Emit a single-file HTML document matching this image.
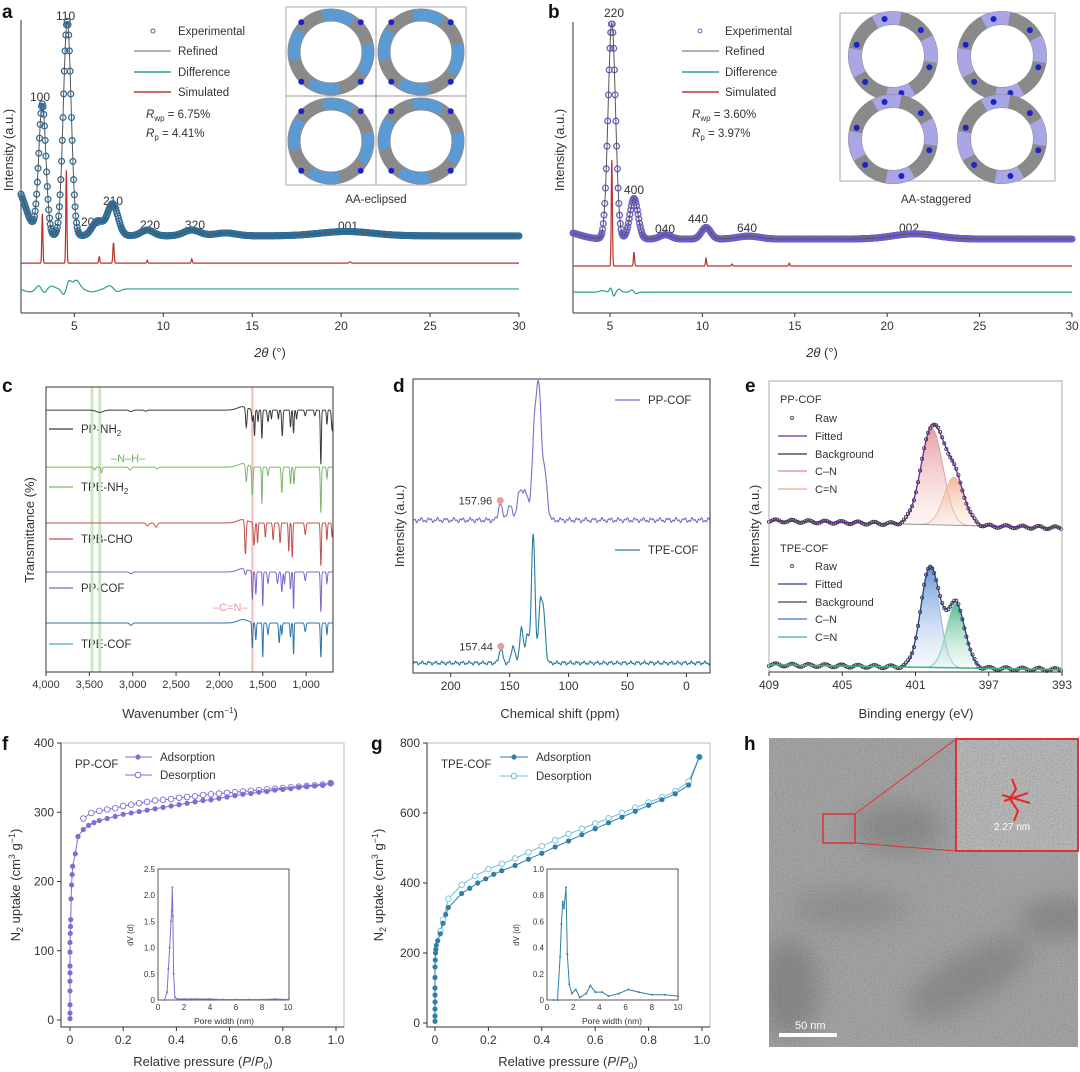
<!DOCTYPE html>
<html><head><meta charset="utf-8">
<style>
html,body{margin:0;padding:0;background:#fff;}
svg{display:block;font-family:"Liberation Sans",sans-serif;}
text{fill:#333;}
.tk{font-size:12px;text-anchor:middle;}
.lg{font-size:11.5px;}
.pl{font-size:19px;font-weight:bold;fill:#111;}
.al{font-size:13px;text-anchor:middle;}
</style></head>
<body>
<svg id="fig" width="1080" height="1072" viewBox="0 0 1080 1072">
<defs>
<filter id="noise" x="0" y="0" width="100%" height="100%">
<feTurbulence type="fractalNoise" baseFrequency="0.9" numOctaves="2" seed="3"/>
<feColorMatrix type="matrix" values="0.33 0.33 0.33 0 0.0  0.33 0.33 0.33 0 0.0  0.33 0.33 0.33 0 0.0  0 0 0 0 1"/>
</filter>
<filter id="blur8"><feGaussianBlur stdDeviation="12"/></filter>
<linearGradient id="gPink" x1="0" y1="0" x2="0" y2="1"><stop offset="0" stop-color="#e48f93" stop-opacity="0.85"/><stop offset="1" stop-color="#fbe3e3" stop-opacity="0.3"/></linearGradient>
<linearGradient id="gOrange" x1="0" y1="0" x2="0" y2="1"><stop offset="0" stop-color="#efa57e" stop-opacity="0.8"/><stop offset="1" stop-color="#fde8dc" stop-opacity="0.3"/></linearGradient>
<linearGradient id="gBlue" x1="0" y1="0" x2="0" y2="1"><stop offset="0" stop-color="#4f86d0" stop-opacity="0.85"/><stop offset="1" stop-color="#e2ecf8" stop-opacity="0.3"/></linearGradient>
<linearGradient id="gGreen" x1="0" y1="0" x2="0" y2="1"><stop offset="0" stop-color="#35b07f" stop-opacity="0.85"/><stop offset="1" stop-color="#dff3ea" stop-opacity="0.3"/></linearGradient>
</defs>

<g id="pa">
<text class="pl" x="2" y="18">a</text>
<line x1="21" y1="20" x2="21" y2="313" stroke="#333"/>
<line x1="21" y1="313" x2="519" y2="313" stroke="#333"/>
<text class="al" transform="translate(13,150) rotate(-90)">Intensity (a.u.)</text>
<text class="al" x="270" y="357"><tspan font-style="italic">2θ</tspan> (°)</text>
<g font-size="12">
<text x="56" y="20">110</text><text x="30" y="101">100</text><text x="103" y="205">210</text><text x="81" y="226">200</text><text x="140" y="229">220</text><text x="185" y="229">320</text><text x="338" y="230">001</text>
</g>
<g>
<circle cx="153" cy="31" r="2" fill="none" stroke="#2f6f9a"/>
<text class="lg" x="178" y="35">Experimental</text>
<line x1="134" y1="51" x2="171" y2="51" stroke="#666"/>
<text class="lg" x="178" y="55">Refined</text>
<line x1="134" y1="72" x2="171" y2="72" stroke="#2aa39a" stroke-width="1.5"/>
<text class="lg" x="178" y="76">Difference</text>
<line x1="134" y1="92" x2="171" y2="92" stroke="#c0392b" stroke-width="1.5"/>
<text class="lg" x="178" y="96">Simulated</text>
<text class="lg" x="146" y="118"><tspan font-style="italic">R</tspan><tspan font-size="8" dy="3">wp</tspan><tspan dy="-3"> = 6.75%</tspan></text>
<text class="lg" x="146" y="137"><tspan font-style="italic">R</tspan><tspan font-size="8" dy="3">p</tspan><tspan dy="-3"> = 4.41%</tspan></text>
</g>
<g id="aInset">
<rect x="286" y="7" width="180" height="178" fill="#fff" stroke="#aaa"/>
<line x1="376" y1="7" x2="376" y2="185" stroke="#999"/><line x1="286" y1="96" x2="466" y2="96" stroke="#999"/>
</g>
<text class="lg" x="376" y="203" text-anchor="middle">AA-eclipsed</text>
</g>

<g id="pb">
<text class="pl" x="548" y="18">b</text>
<line x1="573" y1="22" x2="573" y2="313" stroke="#333"/>
<line x1="573" y1="313" x2="1072" y2="313" stroke="#333"/>
<text class="al" transform="translate(564,150) rotate(-90)">Intensity (a.u.)</text>
<text class="al" x="822" y="357"><tspan font-style="italic">2θ</tspan> (°)</text>
<g font-size="12">
<text x="604" y="17">220</text><text x="624" y="194">400</text><text x="655" y="233">040</text><text x="688" y="223">440</text><text x="737" y="232">640</text><text x="899" y="232">002</text>
</g>
<g>
<circle cx="700" cy="31" r="2" fill="none" stroke="#6b5fc7"/>
<text class="lg" x="725" y="35">Experimental</text>
<line x1="682" y1="51" x2="719" y2="51" stroke="#666"/>
<text class="lg" x="725" y="55">Refined</text>
<line x1="682" y1="72" x2="719" y2="72" stroke="#2aa39a" stroke-width="1.5"/>
<text class="lg" x="725" y="76">Difference</text>
<line x1="682" y1="92" x2="719" y2="92" stroke="#c0392b" stroke-width="1.5"/>
<text class="lg" x="725" y="96">Simulated</text>
<text class="lg" x="692" y="118"><tspan font-style="italic">R</tspan><tspan font-size="8" dy="3">wp</tspan><tspan dy="-3"> = 3.60%</tspan></text>
<text class="lg" x="692" y="137"><tspan font-style="italic">R</tspan><tspan font-size="8" dy="3">p</tspan><tspan dy="-3"> = 3.97%</tspan></text>
</g>
<g id="bInset">
<rect x="840" y="13" width="215" height="168" fill="#fff" stroke="#aaa"/>
</g>
<text class="lg" x="936" y="203" text-anchor="middle">AA-staggered</text>
</g>

<g id="pc">
<text class="pl" x="2" y="392">c</text>
<text class="al" transform="translate(34,530) rotate(-90)">Transmittance (%)</text>
<text class="al" x="180" y="718">Wavenumber (cm<tspan font-size="8" dy="-5">−1</tspan><tspan dy="5">)</tspan></text>
<g>
<line x1="49" y1="429" x2="73" y2="429" stroke="#3b3b3b" stroke-width="1.3"/><text class="lg" x="81" y="433">PP-NH<tspan font-size="8" dy="3">2</tspan></text>
<line x1="49" y1="487" x2="73" y2="487" stroke="#7cb86a" stroke-width="1.3"/><text class="lg" x="81" y="491">TPE-NH<tspan font-size="8" dy="3">2</tspan></text>
<line x1="49" y1="539" x2="73" y2="539" stroke="#c0504d" stroke-width="1.3"/><text class="lg" x="81" y="543">TPB-CHO</text>
<line x1="49" y1="588" x2="73" y2="588" stroke="#7b68c8" stroke-width="1.3"/><text class="lg" x="81" y="592">PP-COF</text>
<line x1="49" y1="644" x2="73" y2="644" stroke="#4aa6c9" stroke-width="1.3"/><text class="lg" x="81" y="648">TPE-COF</text>
</g>
<text x="111" y="462" font-size="11" style="fill:#6fae55">–N–H–</text>
<text x="213" y="611" font-size="11" style="fill:#e79a9a">–C=N–</text>
</g>

<g id="pd">
<text class="pl" x="393" y="392">d</text>
<text class="al" transform="translate(404,526) rotate(-90)">Intensity (a.u.)</text>
<text class="al" x="560" y="718">Chemical shift (ppm)</text>
<g>
<line x1="615" y1="400" x2="640" y2="400" stroke="#7a6fc9" stroke-width="1.3"/><text class="lg" x="648" y="404">PP-COF</text>
<line x1="615" y1="550" x2="640" y2="550" stroke="#2a7aa0" stroke-width="1.3"/><text class="lg" x="648" y="554">TPE-COF</text>
</g>
</g>

<g id="pe">
<text class="pl" x="745" y="392">e</text>
<text class="al" transform="translate(759,526) rotate(-90)">Intensity (a.u.)</text>
<text class="al" x="916" y="718">Binding energy (eV)</text>
<g font-size="11">
<text x="780" y="403">PP-COF</text>
<circle cx="792" cy="418" r="1.5" fill="none" stroke="#555"/><text x="815" y="422">Raw</text>
<line x1="778" y1="436" x2="807" y2="436" stroke="#6a2c9a" stroke-width="1.3"/><text x="815" y="440">Fitted</text>
<line x1="778" y1="454" x2="807" y2="454" stroke="#333" stroke-width="1.3"/><text x="815" y="458">Background</text>
<line x1="778" y1="471" x2="807" y2="471" stroke="#d9888c" stroke-width="1.3"/><text x="815" y="475">C–N</text>
<line x1="778" y1="489" x2="807" y2="489" stroke="#eea884" stroke-width="1.3"/><text x="815" y="493">C=N</text>
</g>
<g font-size="11">
<text x="780" y="552">TPE-COF</text>
<circle cx="792" cy="566" r="1.5" fill="none" stroke="#555"/><text x="815" y="570">Raw</text>
<line x1="778" y1="584" x2="807" y2="584" stroke="#2b3f8a" stroke-width="1.3"/><text x="815" y="588">Fitted</text>
<line x1="778" y1="602" x2="807" y2="602" stroke="#444" stroke-width="1.3"/><text x="815" y="606">Background</text>
<line x1="778" y1="619" x2="807" y2="619" stroke="#3c78c2" stroke-width="1.3"/><text x="815" y="623">C–N</text>
<line x1="778" y1="637" x2="807" y2="637" stroke="#3fb38a" stroke-width="1.3"/><text x="815" y="641">C=N</text>
</g>
</g>

<g id="pf">
<text class="pl" x="2" y="750">f</text>
<text class="al" transform="translate(20,885) rotate(-90)">N<tspan font-size="9" dy="3">2</tspan><tspan dy="-3"> uptake (cm</tspan><tspan font-size="9" dy="-5">3</tspan><tspan dy="5"> g</tspan><tspan font-size="9" dy="-5">−1</tspan><tspan dy="5">)</tspan></text>
<text class="al" x="203" y="1066">Relative pressure (<tspan font-style="italic">P</tspan>/<tspan font-style="italic">P</tspan><tspan font-size="9" dy="3">0</tspan><tspan dy="-3">)</tspan></text>
<text class="lg" x="75" y="768">PP-COF</text>
<g>
<line x1="125" y1="757" x2="152" y2="757" stroke="#7b6fd6"/><circle cx="138" cy="757" r="2.6" fill="#7b6fd6"/><text class="lg" x="160" y="761">Adsorption</text>
<line x1="125" y1="775" x2="152" y2="775" stroke="#7b6fd6"/><circle cx="138" cy="775" r="2.8" fill="#fff" stroke="#7b6fd6"/><text class="lg" x="160" y="779">Desorption</text>
</g>
<text font-size="8" transform="translate(133,935) rotate(-90)" text-anchor="middle">dV (d)</text>
<text font-size="8.5" x="224" y="1024" text-anchor="middle">Pore width (nm)</text>
</g>

<g id="pg">
<text class="pl" x="371" y="750">g</text>
<text class="al" transform="translate(383,885) rotate(-90)">N<tspan font-size="9" dy="3">2</tspan><tspan dy="-3"> uptake (cm</tspan><tspan font-size="9" dy="-5">3</tspan><tspan dy="5"> g</tspan><tspan font-size="9" dy="-5">−1</tspan><tspan dy="5">)</tspan></text>
<text class="al" x="568" y="1066">Relative pressure (<tspan font-style="italic">P</tspan>/<tspan font-style="italic">P</tspan><tspan font-size="9" dy="3">0</tspan><tspan dy="-3">)</tspan></text>
<text class="lg" x="441" y="768">TPE-COF</text>
<g>
<line x1="500" y1="757" x2="528" y2="757" stroke="#2f7fa8"/><circle cx="514" cy="757" r="2.6" fill="#2f7fa8"/><text class="lg" x="536" y="761">Adsorption</text>
<line x1="500" y1="776" x2="528" y2="776" stroke="#6fc0d8"/><circle cx="514" cy="776" r="2.8" fill="#fff" stroke="#6fc0d8"/><text class="lg" x="536" y="780">Desorption</text>
</g>
<text font-size="8" transform="translate(519,935) rotate(-90)" text-anchor="middle">dV (d)</text>
<text font-size="8.5" x="612" y="1024" text-anchor="middle">Pore width (nm)</text>
</g>

<g id="ph">
<text class="pl" x="744" y="750">h</text>
<svg x="769" y="738" width="309" height="309">
<rect width="309" height="309" fill="#7c7c7c"/>
<rect width="309" height="309" filter="url(#noise)" opacity="0.55"/>
<g filter="url(#blur8)" opacity="0.3">
<ellipse cx="130" cy="90" rx="45" ry="25" fill="#555"/>
<ellipse cx="20" cy="250" rx="30" ry="50" fill="#4a4a4a"/>
<ellipse cx="200" cy="240" rx="70" ry="25" fill="#555" transform="rotate(-30 200 240)"/>
<ellipse cx="290" cy="180" rx="40" ry="20" fill="#505050"/>
<ellipse cx="80" cy="170" rx="60" ry="20" fill="#6a6a6a"/>
<ellipse cx="250" cy="110" rx="40" ry="40" fill="#a8a8a8"/>
</g>
</svg>
<rect x="823" y="814" width="32" height="29" fill="none" stroke="#d33" stroke-width="1.5"/>
<line x1="855" y1="814" x2="956" y2="739" stroke="#d33" stroke-width="1"/>
<line x1="855" y1="843" x2="956" y2="851" stroke="#d33" stroke-width="1"/>
<svg x="956" y="739" width="122" height="112">
<rect width="122" height="112" fill="#8a8a8a"/>
<rect width="122" height="112" filter="url(#noise)" opacity="0.8"/>
<path d="M56 40 L60 50 L54 60 L62 72 L58 82 M46 56 L74 64 M48 62 L72 54" stroke="#e22" stroke-width="2" fill="none"/>
<text x="38" y="91" font-size="10" style="fill:#fff">2.27 nm</text>
</svg>
<rect x="956" y="739" width="122" height="112" fill="none" stroke="#d33" stroke-width="2"/>
<rect x="779" y="1033" width="58" height="4" fill="#fff"/>
<text x="795" y="1029" font-size="11" style="fill:#fff">50 nm</text>
</g>
</svg>

<script>
const NS="http://www.w3.org/2000/svg";
function el(tag,attrs,parent){const e=document.createElementNS(NS,tag);for(const k in attrs)e.setAttribute(k,attrs[k]);parent.appendChild(e);return e;}
function lin(d0,d1,r0,r1){return v=>r0+(v-d0)*(r1-r0)/(d1-d0);}
function gsum(x,peaks){let s=0;for(const p of peaks){const d=(x-p[0])/p[2];s+=p[1]*Math.exp(-0.5*d*d);}return s;}

const aTicks=[5,10,15,20,25,30];
const aExpBase=26.6;
const aExpPeaks=[[1.6,18,0.6],[3.2,45,0.2],[4.6,74,0.22],[6.3,5,0.3],[7.15,11,0.3],[9.1,2,0.35],[11.6,2,0.45],[13.5,1,0.6],[20.3,1.5,1.5]];
const aSimBase=17.2;
const aSimPeaks=[[3.2,17,0.03],[4.55,32,0.03],[6.4,2.2,0.03],[7.2,7,0.035],[9.1,1,0.03],[11.6,1.5,0.03],[20.5,0.4,0.05]];
const aDiffBase=8.3;
const aDiffPeaks=[[2.5,-1,0.3],[3.0,1.5,0.15],[3.3,-1.5,0.15],[3.7,1,0.2],[4.4,-2,0.12],[4.7,2.5,0.12],[5.1,3,0.2],[6.0,-1,0.3],[7.0,1.2,0.2],[7.4,-1,0.2]];
const bTicks=[5,10,15,20,25,30];
const bExpBase=25.5;
const bExpPeaks=[[2.5,2.5,0.8],[5.1,74.5,0.2],[6.3,14,0.22],[8.0,1.5,0.3],[10.2,4,0.25],[12.5,1,0.6],[21.5,1.8,1.2]];
const bSimBase=16.2;
const bSimPeaks=[[5.1,36.6,0.03],[6.3,4.8,0.03],[10.2,2.7,0.03],[11.6,0.7,0.03],[14.7,1,0.03]];
const bDiffBase=7.2;
const bDiffPeaks=[[4.6,0.5,0.15],[5.05,1.5,0.07],[5.2,-1.5,0.07],[5.5,1,0.1],[6.2,0.8,0.1],[6.4,-0.6,0.1]];
const cTicks=[4000,3500,3000,2500,2000,1500,1000];
const cTickLabels=["4,000","3,500","3,000","2,500","2,000","1,500","1,000"];
const cNames=["pp-nh2","tpe-nh2","tpb-cho","pp-cof","tpe-cof"];
const cColors=["#3b3b3b","#7cb86a","#c0504d","#7b68c8","#2e75a8"];
const cBaselines=[91.9,71.9,52.3,35.1,17.2];
const cDips=[
 [[3380,0.8,40],[3020,0.5,20],[2850,0.4,15],[1690,7,8],[1620,4,8],[1595,9,6],[1555,4,6],[1510,10,6],[1440,4,8],[1400,3,6],[1320,3,6],[1275,9,7],[1180,6,6],[1145,8,6],[1110,3,6],[1010,2,8],[900,2,8],[830,19,6],[760,5,6],[700,7,8]],
 [[3440,1,10],[3360,2,8],[3030,1,15],[2720,0.6,15],[1690,6,8],[1620,10,8],[1510,13,5],[1440,3,8],[1280,9,7],[1180,6,6],[1140,6,6],[830,16,6],[760,4,6]],
 [[2830,1,15],[2730,1.5,15],[1700,12,8],[1600,8,8],[1560,7,6],[1470,5,6],[1380,6,7],[1300,7,7],[1200,10,6],[1160,12,6],[1010,4,8],[830,15,6],[760,6,6],[700,5,6]],
 [[3020,0.6,15],[1700,2,10],[1620,10,6],[1580,8,6],[1500,12,5],[1440,4,8],[1330,4,8],[1280,7,7],[1250,4,6],[1180,6,6],[1145,13,5],[1010,3,8],[830,14,6],[760,4,6]],
 [[3020,0.8,15],[1620,9,6],[1580,6,6],[1500,12,5],[1440,4,8],[1310,7,7],[1280,4,6],[1180,5,6],[1145,11,5],[1010,3,8],[830,12,6],[760,4,6]]
];
const cRise=[[1730,1.2,60]];
const dTicks=[200,150,100,50,0];
const dPPBase=52;
const dPPPeaks=[[125,42,2],[129,30,2],[120,15,2],[137,10,2.5],[142,8,2],[150,5,2],[157.96,6,1.5]];
const dTPEBase=3.4;
const dTPEPeaks=[[130,44.5,1.5],[124,20,1.5],[121,15,1.5],[135,10,1.5],[140,12,1.5],[147,6,1.5],[157.44,5,1.5]];
const eTicks=[409,405,401,397,393];
const ePPBg=[52,49.5];
const ePPComps=[[400.1,33,0.6],[398.9,16.5,0.55]];
const eTPEBg=[2.5,0.8];
const eTPEComps=[[400.2,34.6,0.5],[398.8,22,0.5]];
const fXTicks=[0,0.2,0.4,0.6,0.8,1.0];
const fXTickLabels=["0","0.2","0.4","0.6","0.8","1.0"];
const fYTicks=[0,100,200,300,400];
const fAdsP=[0,0,0,0,0,0,0,0,0,0.001,0.002,0.003,0.004,0.006,0.008,0.01,0.02,0.03,0.05,0.07,0.09,0.11,0.14,0.17,0.2,0.23,0.26,0.29,0.32,0.35,0.38,0.41,0.44,0.47,0.5,0.53,0.56,0.59,0.62,0.65,0.68,0.71,0.74,0.77,0.8,0.83,0.86,0.89,0.92,0.95,0.98];
const fAdsV=[2,10,22,42,56,68,78,98,112,125,135,145,175,195,210,222,240,265,275,281,285,288,291,294,297,299,301,303,305,307,309,311,313,315,317,318,320,322,324,326,327,329,330,332,333,334,336,337,338,339,342];
const fDesP=[0.98,0.95,0.92,0.89,0.86,0.83,0.8,0.77,0.74,0.71,0.68,0.65,0.62,0.59,0.56,0.53,0.5,0.47,0.44,0.41,0.38,0.35,0.32,0.29,0.26,0.23,0.2,0.17,0.14,0.11,0.08,0.05];
const fDesV=[342,340,339,338,337,336,335,334,333,332,331,330,329,328,327,326,325,323,322,321,319,318,317,315,313,311,309,306,304,302,299,291];
const fPoreW=[0.5,0.7,0.8,0.9,1.0,1.05,1.1,1.15,1.2,1.3,1.5,2,2.5,3,4,5,6,7,8,9,10];
const fPoreDV=[0,0.15,0.6,1.0,1.5,1.7,2.15,1.6,0.5,0.05,0.02,0.02,0.02,0.02,0.02,0.01,0.01,0.01,0.01,0.02,0.01];
const fInsetYTicks=[0,0.5,1.0,1.5,2.0,2.5];
const fInsetYLabels=["0","0.5","1.0","1.5","2.0","2.5"];
const insetXTicks=[0,2,4,6,8,10];
const gYTicks=[0,200,400,600,800];
const gAdsP=[0,0,0,0,0,0,0,0,0.001,0.002,0.003,0.005,0.01,0.02,0.03,0.04,0.05,0.1,0.13,0.16,0.19,0.22,0.25,0.3,0.35,0.4,0.45,0.5,0.55,0.6,0.65,0.7,0.75,0.8,0.85,0.9,0.95,0.99];
const gAdsV=[5,20,40,60,80,100,130,160,180,200,210,222,235,255,285,310,330,370,385,400,412,425,435,450,468,485,503,520,538,555,572,588,605,622,638,655,680,760];
const gDesP=[0.99,0.95,0.9,0.85,0.8,0.75,0.7,0.65,0.6,0.55,0.5,0.45,0.4,0.35,0.3,0.25,0.2,0.15,0.1,0.05,0.03,0.02];
const gDesV=[760,690,662,645,630,615,600,585,570,555,540,522,505,488,470,455,440,420,395,355,295,262];
const gPoreW=[0.5,0.8,1.0,1.1,1.2,1.3,1.45,1.55,1.7,1.9,2.2,2.5,3.0,3.3,3.7,4.2,4.7,5.5,6.2,7,8,9,10];
const gPoreDV=[0,0,0.33,0.58,0.75,0.7,0.86,0.35,0.12,0.05,0.08,0.02,0.05,0.11,0.06,0.06,0.03,0.05,0.08,0.06,0.04,0.04,0.03];
const gInsetYTicks=[0,0.2,0.4,0.6,0.8,1.0];
const gInsetYLabels=["0","0.2","0.4","0.6","0.8","1.0"];

function curvePath(x0,x1,step,f,X,Y){let d="";for(let x=x0;step>0?x<=x1+1e-9:x>=x1-1e-9;x+=step){d+=(d?"L":"M")+X(x).toFixed(2)+" "+Y(f(x)).toFixed(2);}return d;}
function xTicks(g,ticks,labels,X,y,len,fs){ticks.forEach((t,i)=>{
 const tl=el("line",{x1:X(t),x2:X(t),y1:y,y2:y+len,stroke:"#333"},g);
 
 
 const tx=el("text",{x:X(t),y:y+len+fs+1,"font-size":fs,"text-anchor":"middle"},g);
 tx.textContent=labels?labels[i]:String(t);
 
 
});}
function yTicks(g,ticks,labels,Y,x,len,fs){ticks.forEach((t,i)=>{
 const tl=el("line",{x1:x,x2:x-len,y1:Y(t),y2:Y(t),stroke:"#333"},g);
 
 
 const tx=el("text",{x:x-len-3,y:Y(t)+fs*0.35,"font-size":fs,"text-anchor":"end"},g);
 tx.textContent=labels?labels[i]:String(t);
 
 
});}

(function(){
 const g=document.getElementById("pa");
 const X=lin(2,30,21,519), Y=lin(0,100,313,23);
 xTicks(g,aTicks,null,X,313,4,12);
 const sim=el("path",{d:curvePath(2,30,0.01,x=>aSimBase+gsum(x,aSimPeaks),X,Y),fill:"none",stroke:"#b8322a","stroke-width":1.2},g);
 
 
 const dif=el("path",{d:curvePath(2,30,0.02,x=>aDiffBase+gsum(x,aDiffPeaks),X,Y),fill:"none",stroke:"#2a9d8f","stroke-width":1.2},g);
 
 
 const eg=el("g",{fill:"none",stroke:"#2f6f9a","stroke-width":1.3},g);
 
 
 for(let x=2;x<=30;x+=0.04){el("circle",{cx:X(x).toFixed(1),cy:Y(aExpBase+gsum(x,aExpPeaks)).toFixed(1),r:2.9},eg);}
 const ref=el("path",{d:curvePath(2,30,0.01,x=>aExpBase+gsum(x,aExpPeaks),X,Y),fill:"none",stroke:"#555","stroke-width":1},g);
 
 
 const ins=document.getElementById("aInset");
 [[331,52],[421,52],[331,141],[421,141]].forEach(c=>{
  el("circle",{cx:c[0],cy:c[1],r:37,fill:"none",stroke:"#8a8a8a","stroke-width":13},ins);
  el("circle",{cx:c[0],cy:c[1],r:37,fill:"none",stroke:"#5b9bd5","stroke-width":11,"stroke-dasharray":"30 28","stroke-dashoffset":"8"},ins);
  for(let k=0;k<4;k++){const a=Math.PI/4+k*Math.PI/2;el("circle",{cx:c[0]+42*Math.cos(a),cy:c[1]+42*Math.sin(a),r:3,fill:"#1c23c9"},ins);}
 });
})();

(function(){
 const g=document.getElementById("pb");
 const X=lin(3,30,573,1072), Y=lin(0,100,313,23);
 xTicks(g,bTicks,null,X,313,4,12);
 const sim=el("path",{d:curvePath(3,30,0.01,x=>bSimBase+gsum(x,bSimPeaks),X,Y),fill:"none",stroke:"#b8322a","stroke-width":1.2},g);
 
 
 const dif=el("path",{d:curvePath(3,30,0.01,x=>bDiffBase+gsum(x,bDiffPeaks),X,Y),fill:"none",stroke:"#2a9d8f","stroke-width":1.2},g);
 
 
 const eg=el("g",{fill:"none",stroke:"#6b5fc7","stroke-width":1.3},g);
 
 
 for(let x=3;x<=30;x+=0.04){el("circle",{cx:X(x).toFixed(1),cy:Y(bExpBase+gsum(x,bExpPeaks)).toFixed(1),r:2.9},eg);}
 const ref=el("path",{d:curvePath(3,30,0.01,x=>bExpBase+gsum(x,bExpPeaks),X,Y),fill:"none",stroke:"#555","stroke-width":1},g);
 
 
 const ins=document.getElementById("bInset");
 [[893,56],[1002,56],[893,139],[1002,139]].forEach(c=>{
  el("circle",{cx:c[0],cy:c[1],r:38,fill:"none",stroke:"#8a8a8a","stroke-width":14},ins);
  el("circle",{cx:c[0],cy:c[1],r:38,fill:"none",stroke:"#a9a6e6","stroke-width":13,"stroke-dasharray":"26 34","stroke-dashoffset":"20"},ins);
  for(let k=0;k<6;k++){const a=k*Math.PI/3+0.3;el("circle",{cx:c[0]+38*Math.cos(a),cy:c[1]+38*Math.sin(a),r:3,fill:"#1c23c9"},ins);}
 });
})();

(function(){
 const g=document.getElementById("pc");
 const X=lin(4000,690,46,333), Y=lin(0,100,672,387);
 const band1=el("line",{x1:X(3470),x2:X(3470),y1:387,y2:672,stroke:"#cfe6bf","stroke-width":3},g);
 
 
 const band2=el("line",{x1:X(3380),x2:X(3380),y1:387,y2:672,stroke:"#cfe6bf","stroke-width":3},g);
 
 
 const band3=el("line",{x1:X(1620),x2:X(1620),y1:387,y2:672,stroke:"#f4b9b9","stroke-width":2},g);
 
 
 cBaselines.forEach((b,i)=>{
  const p=el("path",{d:curvePath(4000,690,-2,x=>b+gsum(x,cRise)-gsum(x,cDips[i]),X,Y),fill:"none",stroke:cColors[i],"stroke-width":1},g);
  
  
 });
 const box=el("rect",{x:46,y:387,width:287,height:285,fill:"none",stroke:"#333"},g);
 
 
 xTicks(g,cTicks,cTickLabels,X,672,4,11);
})();

(function(){
 const g=document.getElementById("pd");
 const X=lin(232,-20,413,710), Y=lin(0,100,673,379);
 const pp=el("path",{d:curvePath(232,-20,-0.4,x=>dPPBase+gsum(x,dPPPeaks)+0.5*Math.sin(x*0.9)+0.4*Math.sin(x*2.3),X,Y),fill:"none",stroke:"#7a6fc9","stroke-width":1.1},g);
 
 
 const tp=el("path",{d:curvePath(232,-20,-0.4,x=>dTPEBase+gsum(x,dTPEPeaks)+0.4*Math.sin(x*1.1)+0.3*Math.sin(x*2.7),X,Y),fill:"none",stroke:"#2a7aa0","stroke-width":1.1},g);
 
 
 const m1=el("circle",{cx:X(157.96),cy:Y(dPPBase+gsum(157.96,dPPPeaks))-2,r:3.5,fill:"#f09a9a"},g);
 
 
 const t1=el("text",{x:X(157.96)-8,y:Y(dPPBase+gsum(157.96,dPPPeaks))+2,"font-size":11,"text-anchor":"end"},g);
 t1.textContent="157.96";
 
 
 const m2=el("circle",{cx:X(157.44),cy:Y(dTPEBase+gsum(157.44,dTPEPeaks))-2,r:3.5,fill:"#f09a9a"},g);
 
 
 const t2=el("text",{x:X(157.44)-8,y:Y(dTPEBase+gsum(157.44,dTPEPeaks))+2,"font-size":11,"text-anchor":"end"},g);
 t2.textContent="157.44";
 
 
 const box=el("rect",{x:413,y:379,width:297,height:294,fill:"none",stroke:"#333"},g);
 
 
 xTicks(g,dTicks,null,X,673,4,12);
})();

(function(){
 const g=document.getElementById("pe");
 const X=lin(409,393,769,1062), Y=lin(0,100,672,381);
 function drawSet(bg,comps,fills,strokes,fitColor,prefix){
  const bgf=x=>bg[0]+(bg[1]-bg[0])*(409-x)/16;
  comps.forEach((c,i)=>{
   let top="",bot=[];
   for(let x=404;x>=395;x-=0.05){top+=(top?"L":"M")+X(x).toFixed(1)+" "+Y(bgf(x)+gsum(x,[c])).toFixed(1);bot.push(X(x).toFixed(1)+" "+Y(bgf(x)).toFixed(1));}
   const a=el("path",{d:top+"L"+bot.reverse().join("L")+"Z",fill:fills[i],stroke:"none"},g);
   
   
   const l=el("path",{d:curvePath(409,393,-0.05,x=>bgf(x)+gsum(x,[c]),X,Y),fill:"none",stroke:strokes[i],"stroke-width":1},g);
   
   
  });
  const b=el("path",{d:curvePath(409,393,-0.1,bgf,X,Y),fill:"none",stroke:"#999","stroke-width":1},g);
  
  
  const rg=el("g",{fill:"none",stroke:"#333","stroke-width":0.8},g);
  
  
  for(let x=409;x>=393;x-=0.11){el("circle",{cx:X(x).toFixed(1),cy:(Y(bgf(x)+gsum(x,comps))-1.5*Math.sin(x*7)).toFixed(1),r:1.6},rg);}
  const f=el("path",{d:curvePath(409,393,-0.05,x=>bgf(x)+gsum(x,comps),X,Y),fill:"none",stroke:fitColor,"stroke-width":1.3},g);
  
  
 }
 drawSet(ePPBg,ePPComps,["url(#gPink)","url(#gOrange)"],["#d9a3a5","#e8b89e"],"#6a2c9a","e-pp-cof");
 drawSet(eTPEBg,eTPEComps,["url(#gBlue)","url(#gGreen)"],["#9ab3d8","#86cfb1"],"#2b3f8a","e-tpe-cof");
 const gl=el("line",{x1:769,x2:1062,y1:Y(eTPEBg[0]),y2:Y(eTPEBg[1]),stroke:"#3fb38a","stroke-width":1.5},g);
 
 
 const box=el("rect",{x:769,y:381,width:293,height:291,fill:"none",stroke:"#aaa"},g);
 
 
 const bl=el("line",{x1:769,x2:1062,y1:672,y2:672,stroke:"#333"},g);
 
 
 xTicks(g,eTicks,null,X,672,4,12);
})();

function isotherm(gid,X,Y,box,yt,adsP,adsV,desP,desV,adsCol,desCol,prefix){
 const g=document.getElementById(gid);
 const fr=el("rect",{x:box[0],y:box[1],width:box[2]-box[0],height:box[3]-box[1],fill:"none",stroke:"#bbb"},g);
 
 
 const ax=el("path",{d:`M${box[0]} ${box[1]}V${box[3]}H${box[2]}`,fill:"none",stroke:"#333"},g);
 
 
 xTicks(g,fXTicks,fXTickLabels,X,box[3],4,12);
 yTicks(g,yt,null,Y,box[0],4,12);
 const dl=el("path",{d:desP.map((p,i)=>(i?"L":"M")+X(p).toFixed(1)+" "+Y(desV[i]).toFixed(1)).join(""),fill:"none",stroke:desCol,"stroke-width":1},g);
 
 
 const al=el("path",{d:adsP.map((p,i)=>(i?"L":"M")+X(p).toFixed(1)+" "+Y(adsV[i]).toFixed(1)).join(""),fill:"none",stroke:adsCol,"stroke-width":1},g);
 
 
 desP.forEach((p,i)=>{const c=el("circle",{cx:X(p),cy:Y(desV[i]),r:2.8,fill:"#fff",stroke:desCol,"stroke-width":0.9},g);
  
  });
 adsP.forEach((p,i)=>{const c=el("circle",{cx:X(p),cy:Y(adsV[i]),r:2.6,fill:adsCol},g);
  
  });
}
function inset(gid,X,Y,box,yTk,yLb,w,dv,col,prefix){
 const g=document.getElementById(gid);
 const fr=el("rect",{x:box[0],y:box[1],width:box[2]-box[0],height:box[3]-box[1],fill:"#fff",stroke:"#555"},g);
 
 
 insetXTicks.forEach(t=>{const tx=el("text",{x:X(t),y:box[3]+10,"font-size":8,"text-anchor":"middle"},g);tx.textContent=String(t);
  
  });
 yTk.forEach((t,i)=>{const tx=el("text",{x:box[0]-3,y:Y(t)+3,"font-size":8,"text-anchor":"end"},g);tx.textContent=yLb[i];
  
  });
 const l=el("path",{d:w.map((p,i)=>(i?"L":"M")+X(p).toFixed(1)+" "+Y(dv[i]).toFixed(1)).join(""),fill:"none",stroke:col,"stroke-width":1},g);
 
 
 w.forEach((p,i)=>{const c=el("circle",{cx:X(p),cy:Y(dv[i]),r:1,fill:col},g);
  
  });
}
isotherm("pf",lin(0,1,70,336),lin(0,400,1020,743),[61,743,344,1027],fYTicks,fAdsP,fAdsV,fDesP,fDesV,"#7b6fd6","#7b6fd6","f");
inset("pf",lin(0,10,158,288),lin(0,2.5,1000,869),[158,869,289,1000],fInsetYTicks,fInsetYLabels,fPoreW,fPoreDV,"#7b6fd6","f");
isotherm("pg",lin(0,1,435,702),lin(0,800,1023,743),[427,743,710,1027],gYTicks,gAdsP,gAdsV,gDesP,gDesV,"#2f7fa8","#6fc0d8","g");
inset("pg",lin(0,10,547,678),lin(0,1,1000,869),[547,869,678,1000],gInsetYTicks,gInsetYLabels,gPoreW,gPoreDV,"#2f7fa8","g");
</script>
</body></html>
